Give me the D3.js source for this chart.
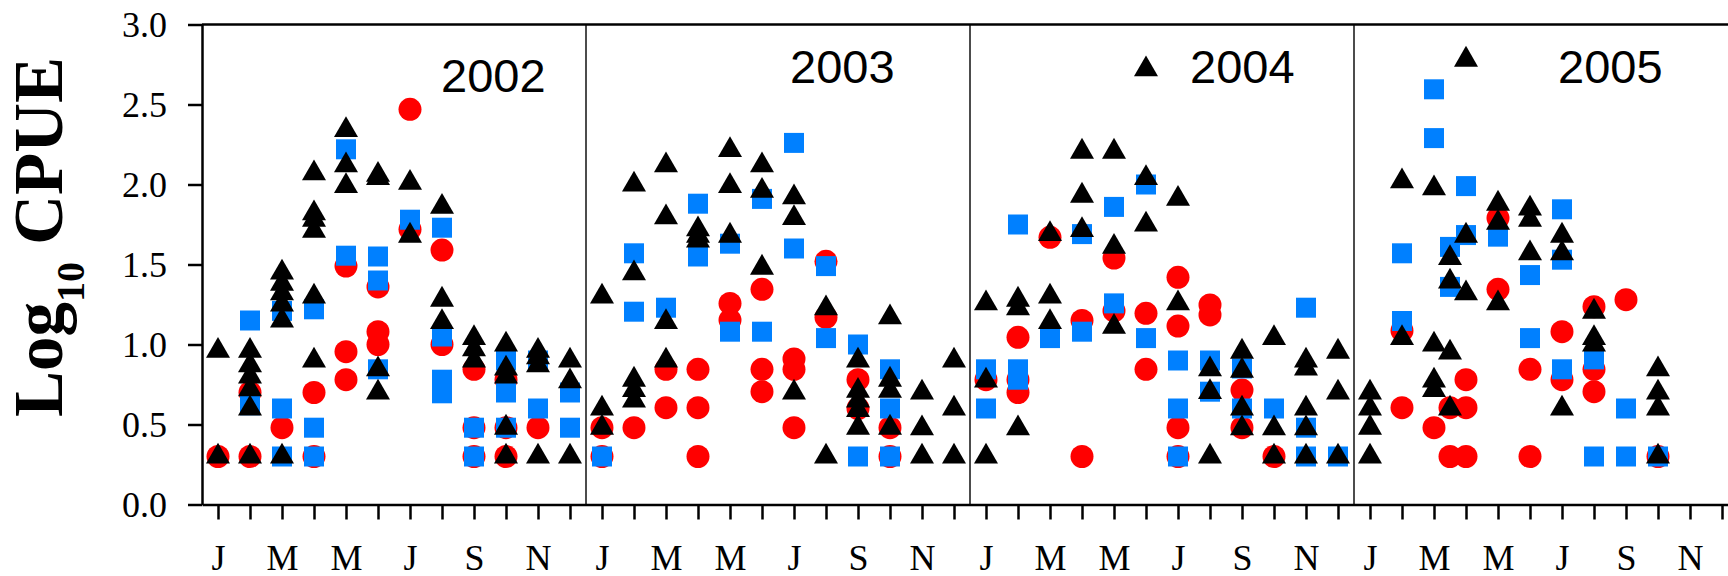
<!DOCTYPE html>
<html>
<head>
<meta charset="utf-8">
<script src="https://cdn.jsdelivr.net/npm/d3@7"></script>
<style>
  body { margin: 0; background: #fff; }
  svg { display: block; }
</style>
</head>
<body>
<script>
// x = month (1-12, halves allowed), y = log10 CPUE
var years = [2002, 2003, 2004, 2005];
var monthLabels = ["J", "", "M", "", "M", "", "J", "", "S", "", "N", ""];
var yTicks = [0, 0.5, 1.0, 1.5, 2.0, 2.5, 3.0];

var circle2002 = [[1,0.30],[2,0.70],[2,0.30],[3,0.48],[4,0.70],[4,0.30],[5,1.49],[5,0.955],[5,0.78],[6,1.36],[6,1.08],[6,1.00],[7,2.47],[7,1.72],[8,1.59],[8,1.00],[9,0.845],[9,0.48],[9,0.30],[10,0.78],[10,0.48],[10,0.30],[11,0.48]];
var square2002 = [[2,1.15],[2,0.62],[3,1.21],[3,0.60],[3,0.30],[4,1.22],[4,0.48],[4,0.30],[5,2.22],[5,1.555],[6,1.55],[6,1.40],[6,0.845],[7,1.78],[8,1.73],[8,1.05],[8,0.78],[8,0.695],[9,0.48],[9,0.30],[10,0.90],[10,0.70],[10,0.48],[11,0.90],[11,0.60],[12,0.70],[12,0.48]];
var triangle2002 = [[1,0.96],[1,0.30],[2,0.96],[2,0.87],[2,0.80],[2,0.72],[2,0.60],[2,0.30],[3,1.45],[3,1.38],[3,1.32],[3,1.25],[3,1.15],[3,0.30],[4,2.07],[4,1.82],[4,1.78],[4,1.71],[4,1.30],[4,0.90],[5,2.34],[5,2.12],[5,1.99],[6,2.06],[6,2.04],[6,0.845],[6,0.70],[7,2.01],[7,1.68],[8,1.86],[8,1.28],[8,1.14],[9,1.04],[9,0.97],[9,0.90],[10,1.00],[10,0.85],[10,0.80],[10,0.48],[10,0.30],[11,0.96],[11,0.92],[11,0.87],[11,0.30],[12,0.90],[12,0.77],[12,0.30]];

var circle2003 = [[1,0.48],[1,0.30],[2,0.48],[3,0.845],[3,0.605],[4,0.845],[4,0.605],[4,0.30],[5,1.257],[5,1.153],[6,1.345],[6,0.845],[6,0.705],[7,0.91],[7,0.845],[7,0.48],[8,1.52],[8,1.17],[9,0.78],[9,0.60],[10,0.48],[10,0.30]];
var square2003 = [[1,0.30],[2,1.57],[2,1.205],[3,1.23],[4,1.88],[4,1.55],[5,1.63],[5,1.08],[6,1.91],[6,1.08],[7,2.26],[7,1.60],[8,1.49],[8,1.04],[9,1.00],[9,0.30],[10,0.845],[10,0.60],[10,0.30]];
var triangle2003 = [[1,1.30],[1,0.60],[1,0.48],[2,2.00],[2,1.445],[2,0.78],[2,0.715],[2,0.65],[3,2.12],[3,1.795],[3,1.14],[3,0.90],[4,1.72],[4,1.68],[4,1.65],[5,2.215],[5,1.99],[5,1.68],[6,2.12],[6,1.96],[6,1.48],[7,1.92],[7,1.79],[7,0.70],[8,1.226],[8,0.30],[9,0.90],[9,0.71],[9,0.65],[9,0.59],[9,0.48],[10,1.17],[10,0.78],[10,0.71],[10,0.48],[11,0.70],[11,0.476],[11,0.30],[12,0.90],[12,0.60],[12,0.30]];

var circle2004 = [[1,0.78],[2,1.045],[2,0.78],[2,0.70],[3,1.67],[4,1.15],[4,0.30],[5,1.54],[5,1.21],[6,1.195],[6,0.845],[7,1.42],[7,1.115],[7,0.48],[7,0.30],[8,1.247],[8,1.185],[9,0.715],[9,0.48],[10,0.30]];
var square2004 = [[1,0.845],[1,0.60],[2,1.75],[2,0.845],[2,0.78],[3,1.04],[4,1.69],[4,1.08],[5,1.86],[5,1.257],[6,2.00],[6,1.04],[7,0.90],[7,0.60],[7,0.30],[8,0.90],[8,0.705],[9,0.85],[9,0.60],[10,0.60],[11,1.23],[11,0.48],[11,0.30],[12,0.30]];
var triangle2004 = [[1,1.257],[1,0.775],[1,0.30],[2,1.28],[2,1.226],[2,0.476],[3,1.69],[3,1.30],[3,1.14],[4,2.205],[4,1.93],[4,1.715],[5,2.205],[5,1.61],[5,1.11],[6,2.72],[6,2.04],[6,1.75],[7,1.91],[7,1.257],[8,0.845],[8,0.703],[8,0.30],[9,0.955],[9,0.836],[9,0.60],[9,0.476],[10,1.04],[10,0.476],[10,0.30],[11,0.90],[11,0.85],[11,0.60],[11,0.476],[11,0.30],[12,0.955],[12,0.70],[12,0.30]];

var circle2005 = [[2,1.086],[2,0.605],[3,0.48],[3.5,0.605],[3.5,0.30],[4,0.78],[4,0.605],[4,0.30],[5,1.79],[5,1.345],[6,0.845],[6,0.30],[7,1.08],[7,0.78],[8,1.236],[8,0.845],[8,0.705],[9,1.28],[10,0.30]];
var square2005 = [[2,1.57],[2,1.147],[3,2.595],[3,2.29],[3.5,1.61],[3.5,1.36],[4,1.99],[4,1.684],[5,1.674],[6,1.434],[6,1.04],[7,1.845],[7,1.53],[7,0.845],[8,0.907],[8,0.30],[9,0.60],[9,0.30],[10,0.30]];
var triangle2005 = [[1,0.70],[1,0.60],[1,0.48],[1,0.30],[2,2.02],[2,1.04],[3,1.976],[3,1.00],[3,0.775],[3,0.715],[3.5,1.54],[3.5,1.393],[3.5,0.95],[3.5,0.60],[4,2.78],[4,1.68],[4,1.32],[5,1.88],[5,1.76],[5,1.257],[6,1.85],[6,1.78],[6,1.57],[7,1.68],[7,1.57],[7,0.60],[8,1.205],[8,1.04],[8,1.00],[10,0.845],[10,0.70],[10,0.60],[10,0.30]];

var circles = [circle2002, circle2003, circle2004, circle2005];
var squares = [square2002, square2003, square2004, square2005];
var triangles = [triangle2002, triangle2003, triangle2004, triangle2005];

var width = 1728,
    height = 576;

var svg = d3.select("body").append("svg")
    .attr("width", width)
    .attr("height", height);

// running month index from Jan 2002 = 0
var x = d3.scaleLinear().domain([-0.5, 47.5]).range([202, 1738]);
var y = d3.scaleLinear().domain([0, 3]).range([504.5, 24.5]);

function flatten(sets) {
    var out = [];
    sets.forEach(function(set, i) {
        set.forEach(function(p) {
            out.push({m: i * 12 + p[0] - 1, v: p[1]});
        });
    });
    return out;
}

// panel dividers between years
svg.append("g").selectAll("line")
    .data(years.slice(1))
    .enter().append("line")
    .attr("x1", function(d, i) { return x((i + 1) * 12 - 0.5); })
    .attr("x2", function(d, i) { return x((i + 1) * 12 - 0.5); })
    .attr("y1", y(3))
    .attr("y2", y(0))
    .attr("stroke", "#111")
    .attr("stroke-width", 1.5);

// top frame line
svg.append("line")
    .attr("x1", x(-0.5)).attr("x2", width)
    .attr("y1", y(3)).attr("y2", y(3))
    .attr("stroke", "#000").attr("stroke-width", 2.5);

// y axis
var yAxis = svg.append("g")
    .attr("transform", "translate(" + x(-0.5) + ",0)")
    .call(d3.axisLeft(y).tickValues(yTicks).tickFormat(d3.format(".1f"))
        .tickSize(14).tickSizeOuter(0).tickPadding(21));

// x axis
var xAxis = svg.append("g")
    .attr("transform", "translate(0," + y(0) + ")")
    .call(d3.axisBottom(x).tickValues(d3.range(48))
        .tickFormat(function(d) { return monthLabels[d % 12]; })
        .tickSize(15).tickSizeOuter(0).tickPadding(0));

[yAxis, xAxis].forEach(function(g) {
    g.select(".domain").attr("stroke", "#000").attr("stroke-width", 2.5);
    g.selectAll(".tick line").attr("stroke", "#000").attr("stroke-width", 2.5);
    g.selectAll(".tick text")
        .attr("fill", "#000")
        .style("font-family", "'Liberation Serif', 'Times New Roman', serif")
        .style("font-size", "36px");
});
xAxis.selectAll(".tick text").attr("y", 65.5).attr("dy", null);

// circles first, then squares, then triangles on top
svg.append("g").selectAll("path")
    .data(flatten(circles))
    .enter().append("path")
    .attr("d", d3.symbol().type(d3.symbolCircle).size(415)())
    .attr("transform", function(d) { return "translate(" + x(d.m) + "," + y(d.v) + ")"; })
    .attr("fill", "#ff0000");

svg.append("g").selectAll("path")
    .data(flatten(squares))
    .enter().append("path")
    .attr("d", d3.symbol().type(d3.symbolSquare).size(400)())
    .attr("transform", function(d) { return "translate(" + x(d.m) + "," + y(d.v) + ")"; })
    .attr("fill", "#0080ff");

svg.append("g").selectAll("path")
    .data(flatten(triangles))
    .enter().append("path")
    .attr("d", d3.symbol().type(d3.symbolTriangle).size(250)())
    .attr("transform", function(d) { return "translate(" + x(d.m) + "," + y(d.v) + ")"; })
    .attr("fill", "#000");

// year labels
var labelPos = [[441, 91.5], [790, 83.3], [1190, 83.3], [1558, 83.3]];
svg.append("g").selectAll("text")
    .data(years)
    .enter().append("text")
    .attr("x", function(d, i) { return labelPos[i][0]; })
    .attr("y", function(d, i) { return labelPos[i][1]; })
    .style("font-family", "'Liberation Sans', Arial, sans-serif")
    .style("font-size", "47px")
    .text(function(d) { return d; });

// y axis title
var title = svg.append("text")
    .attr("transform", "translate(62,417) rotate(-90)")
    .style("font-family", "'Liberation Serif', 'Times New Roman', serif")
    .style("font-weight", "bold")
    .style("font-size", "69px");
title.append("tspan").text("Log");
title.append("tspan").attr("dy", 22).style("font-size", "40px").text("10");
title.append("tspan").attr("dy", -22).text(" CPUE");
</script>
</body>
</html>
